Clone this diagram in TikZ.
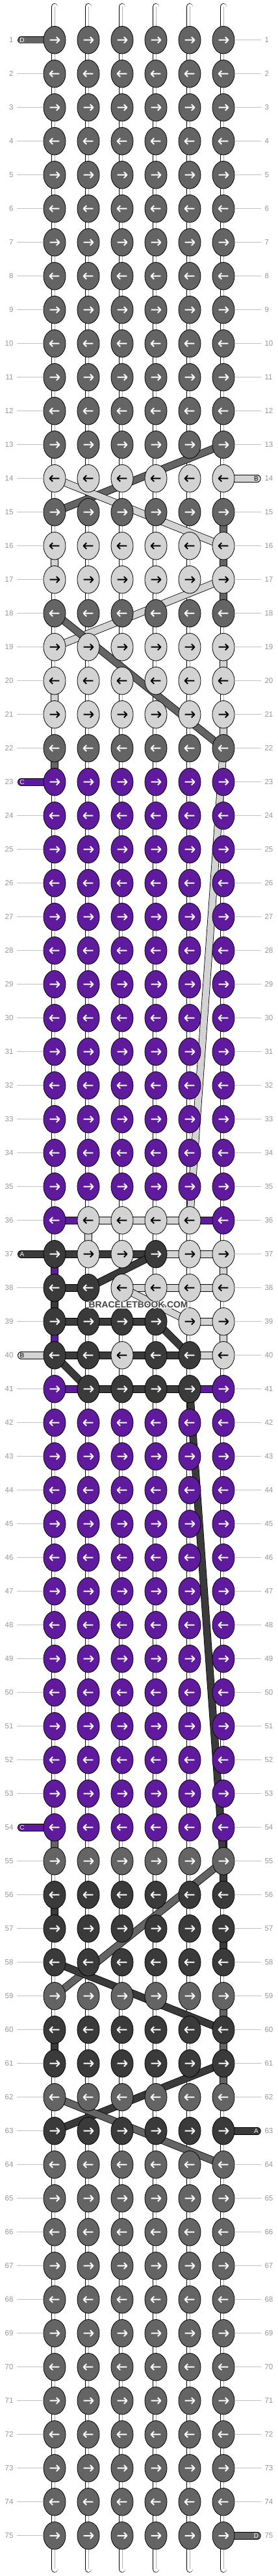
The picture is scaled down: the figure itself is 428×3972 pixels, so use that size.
\documentclass[tikz,border=0pt]{standalone}
\usepackage{fontspec}
\setmainfont{Liberation Sans}
\usetikzlibrary{shapes.geometric}
\pgfdeclarelayer{threads}
\pgfsetlayers{threads,main}

\definecolor{colA}{RGB}{58,58,58}
\definecolor{colB}{RGB}{211,211,211}
\definecolor{colC}{RGB}{96,26,158}
\definecolor{colD}{RGB}{100,100,100}
\definecolor{numgray}{RGB}{150,150,150}
\definecolor{linegray}{RGB}{192,192,192}
\definecolor{markgray}{RGB}{64,64,64}
\colorlet{arrA}{white}
\colorlet{arrB}{black}
\colorlet{arrC}{white}
\colorlet{arrD}{white}

\tikzset{
    knot/.style={ellipse, draw=black, line width=0.8pt, minimum width=34pt, minimum height=42.5pt, inner sep=0pt},
    thread/.style={draw=black, line width=0.8pt, double=#1, double distance=10pt},
    tail/.style={thread=#1, line cap=round},
    strand/.style={draw=black, line width=0.8pt, double=white, double distance=9pt, line cap=round},
    core/.style={draw=black!30, line width=0.6pt},
    knotarrow/.style={draw=#1, line width=2pt, line join=round},
    rowline/.style={draw=linegray, line width=0.8pt},
    rownum/.style={text=numgray, inner sep=0pt, font=\fontsize{11.5}{12}\selectfont},
    taglabel/.style={inner sep=0pt, font=\fontsize{10}{10}\selectfont}
}

% knot with its arrow: row, column, thread
\newcommand\knotat[3]{%
  \node[knot, fill=col#3] (k-#1-#2) at ({84+52*(#2-1)},{61.7+52*(#1-1)}) {};
  \ifodd#1\relax
    \draw[knotarrow=arr#3] ([xshift=-7.3pt]k-#1-#2.center) -- ++(14.8,0) ++(-4.7,-4.7) -- ++(4.7,4.7) -- ++(-4.7,4.7);
  \else
    \draw[knotarrow=arr#3] ([xshift=7.3pt]k-#1-#2.center) -- ++(-14.8,0) ++(4.7,-4.7) -- ++(-4.7,4.7) -- ++(4.7,4.7);
  \fi
}
\newcommand\halotext[1]{\makebox[0pt][l]{\special{pdf:literal direct 1 Tr 2.4 w 1 j 1 1 1 RG}#1\special{pdf:literal direct 0 Tr}}#1}

\begin{document}
\begin{tikzpicture}[x=1pt, y=-1pt]
\useasboundingbox (0,0) rectangle (428,3972);

\foreach \from/\to/\k in {1/13/D, 14/14/B, 15/15/D, 16/17/B, 18/18/D, 19/21/B, 22/22/D, 23/35/C, 42/54/C, 55/55/D, 56/58/A, 59/59/D, 60/61/A, 62/62/D, 63/63/A, 64/75/D}
  \foreach \r in {\from,...,\to}
    \foreach \c in {1,...,6}
      {\knotat{\r}{\c}{\k}}
\foreach \r/\ka/\kb/\kc/\kd/\ke/\kf in {36/C/B/B/B/B/C, 37/A/B/B/A/B/B, 38/A/A/B/B/B/B, 39/A/A/A/A/B/B, 40/A/A/B/A/A/B, 41/C/A/A/A/A/C}
  {\knotat{\r}{1}{\ka}\knotat{\r}{2}{\kb}\knotat{\r}{3}{\kc}\knotat{\r}{4}{\kd}\knotat{\r}{5}{\ke}\knotat{\r}{6}{\kf}}

% row numbers
\foreach \r in {1,...,75}{
  \node[rownum, anchor=east] (ln-\r) at (20.7,{61.7+52*(\r-1)}) {\r};
  \node[rownum, anchor=west] (rn-\r) at (407.3,{61.7+52*(\r-1)}) {\r};
}
\foreach \a/\b in {2/22,24/36,38/39,41/53,55/75}
  \foreach \r in {\a,...,\b}
    \draw[rowline] ([xshift=5.3pt]ln-\r.east) -- (k-\r-1);
\foreach \a/\b in {1/13,15/62,64/74}
  \foreach \r in {\a,...,\b}
    \draw[rowline] (k-\r-6) -- ([xshift=-5.3pt]rn-\r.west);

% string ends
\foreach \r/\k/\t in {1/D/white, 23/C/white, 37/A/white, 40/B/black, 54/C/white}
  \node[taglabel, text=\t] (tag-\r) at (34,{61.7+52*(\r-1)}) {\k};
\foreach \r/\k/\t in {14/B/black, 63/A/white, 75/D/white}
  \node[taglabel, text=\t] (tag-\r) at (394.5,{61.7+52*(\r-1)}) {\k};

\foreach \c in {1,...,6}{
  \coordinate (top-\c) at ({84+52*(\c-1)},10.3);
  \coordinate (bot-\c) at ({84+52*(\c-1)},3961.4);
}

\begin{pgfonlayer}{threads}
\foreach \c in {1,...,6}{
  \draw[strand] (top-\c) -- (bot-\c);
  \draw[core] (top-\c) -- (bot-\c);
}
% turns at the edges
\foreach \a/\b in {1/12, 64/74}
  \foreach \r [evaluate=\r as \s using int(\r+1)] in {\a,...,\b}{
    \ifodd\r\relax
      \draw[thread=colD] (k-\r-6.center) -- (k-\s-6.center);
    \else
      \draw[thread=colD] (k-\r-1.center) -- (k-\s-1.center);
    \fi
  }
\foreach \a/\b in {23/36, 40/53}
  \foreach \r [evaluate=\r as \s using int(\r+1)] in {\a,...,\b}{
    \ifodd\r\relax
      \draw[thread=colD] (k-\r-1.center) -- (k-\s-1.center);
      \draw[thread=colC] (k-\r-6.center) -- (k-\s-6.center);
    \else
      \draw[thread=colC] (k-\r-1.center) -- (k-\s-1.center);
    \fi
  }
\foreach \r/\c/\k [evaluate=\r as \s using int(\r+1)] in {15/6/D, 16/6/D, 16/1/B, 17/6/D, 19/6/B, 20/1/B, 21/6/B, 22/1/D, 36/2/B, 37/1/C, 37/6/B, 38/1/A, 39/1/C, 39/6/B, 54/1/D, 54/6/A, 55/6/A, 56/1/A, 57/6/A, 59/6/D, 60/1/A, 60/6/D, 61/6/D}
  \draw[thread=col\k] (k-\r-\c.center) -- (k-\s-\c.center);

% rows
\foreach \from/\to/\k in {1/13/D, 14/14/B, 15/15/D, 16/17/B, 18/18/D, 19/21/B, 22/22/D, 23/35/C, 42/54/C, 55/55/D, 56/58/A, 59/59/D, 60/61/A, 62/62/D, 63/63/A, 64/75/D}
  \foreach \r in {\from,...,\to}
    \foreach \c [evaluate=\c as \d using int(\c+1)] in {1,...,5}
      \draw[thread=col\k] (k-\r-\c.center) -- (k-\r-\d.center);
\foreach \r/\c/\k [evaluate=\c as \d using int(\c+1)] in {36/1/C, 36/2/B, 36/3/B, 36/4/B, 36/5/C, 37/1/A, 37/2/A, 37/3/A, 37/4/B, 37/5/B, 38/1/A, 38/3/B, 38/4/B, 38/5/B, 39/1/A, 39/2/A, 39/3/A, 39/5/B, 40/1/A, 40/2/A, 40/3/A, 40/4/A, 40/5/B, 41/1/C, 41/2/A, 41/3/A, 41/4/A, 41/5/C}
  \draw[thread=col\k] (k-\r-\c.center) -- (k-\r-\d.center);

\foreach \r/\k in {1/D, 23/C, 37/A, 40/B, 54/C}
  \draw[tail=col\k] ([xshift=-1.2pt]tag-\r.center) -- (k-\r-1.center);
\foreach \r/\k in {14/B, 63/A, 75/D}
  \draw[tail=col\k] ([xshift=1.4pt]tag-\r.center) -- (k-\r-6.center);

% threads carried behind
\foreach \k/\ra/\ca/\rb/\cb in {D/13/6/15/1, B/14/1/16/6, B/17/6/19/1, D/18/1/22/6, B/22/6/36/5, A/37/4/38/2, B/38/3/39/5, A/39/4/40/5, A/40/1/41/2, A/41/5/55/6, D/55/6/59/1, A/58/1/60/6, A/61/6/63/1, D/62/1/64/6}
  \draw[thread=col\k] (k-\ra-\ca.center) -- (k-\rb-\cb.center);
\end{pgfonlayer}

\node[inner sep=0pt, text=markgray, font=\bfseries\fontsize{13.8}{14}\selectfont] (mark) at (213,2011.7) {\halotext{BRACELETBOOK.COM}};
\end{tikzpicture}
\end{document}
